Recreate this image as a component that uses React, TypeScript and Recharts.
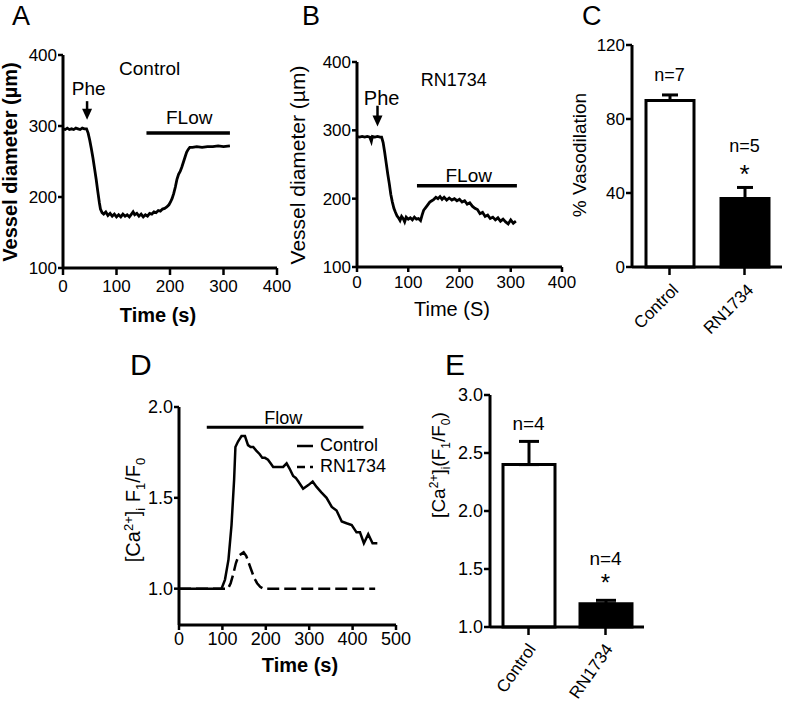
import React from 'react';
import {
  LineChart, Line, BarChart, Bar, XAxis, YAxis, ReferenceLine, ReferenceDot, ErrorBar, Legend, Cell,
} from 'recharts';

const W = 787;
const H = 703;
const FONT = '"Liberation Sans", Arial, Helvetica, sans-serif';
const BLACK = '#000';

// ---------- Panel A (Control diameter trace) ----------
const timeA = [0,4,8,12,16,20,24,28,32,36,40,44,47,50,53,56,59,62,65,68,70,73,76,80,84,88,92,96,100,104,108,112,116,120,124,128,131,134,138,142,146,150,154,158,162,166,170,174,178,182,186,190,194,198,201,204,207,210,213,216,219,222,225,228,231,234,237,242,250,260,270,280,290,300,312];
const diamA = [296,295,297,295,296,295,297,296,295,297,296,296,290,280,268,255,240,225,208,192,183,178,176,179,174,177,173,176,172,175,172,176,173,175,172,176,179,175,177,173,176,172,175,173,177,176,179,178,181,180,183,184,186,189,193,198,205,214,225,232,236,242,249,256,263,267,270,270,271,270,271,271,272,271,272];
const ticksAX = [0, 100, 200, 300, 400];
const ticksAY = [100, 200, 300, 400];

// ---------- Panel B (RN1734 diameter trace) ----------
const timeB = [0,5,10,15,20,25,28,30,35,40,45,48,51,54,57,60,63,66,69,72,75,78,81,84,87,90,93,96,100,104,108,112,116,120,124,127,130,134,138,142,146,150,154,158,162,166,170,175,180,185,190,195,200,205,210,215,220,225,230,235,240,245,250,255,260,265,270,275,280,285,290,295,300,305,310];
const diamB = [291,290,291,290,291,290,284,291,290,291,290,290,282,268,252,236,222,206,195,186,180,175,172,168,174,171,166,173,170,172,169,173,170,171,168,176,183,187,191,195,197,199,202,200,203,199,202,198,201,198,200,197,199,195,197,192,194,189,186,184,178,180,174,176,171,173,169,172,167,170,166,163,169,164,167];
const ticksBX = [0, 100, 200, 300, 400];
const ticksBY = [100, 200, 300, 400];

// ---------- Panel C (% vasodilation) ----------
const groupsC = ['Control', 'RN1734'];
const meanC = [90, 37];
const semC = [3, 6];
const nC = ['n=7', 'n=5'];
const ticksCY = [0, 40, 80, 120];

// ---------- Panel D ([Ca2+]i traces) ----------
const timeDC = [0,98,106,114,121,127,130,136,144,152,159,165,171,178,186,192,198,205,211,217,225,232,240,248,255,263,269,275,286,298,308,317,328,340,352,363,375,386,398,409,417,426,436,446,457];
const caDC = [1.0,1.0,1.05,1.16,1.35,1.60,1.78,1.81,1.84,1.84,1.79,1.78,1.78,1.76,1.74,1.72,1.72,1.71,1.69,1.67,1.67,1.67,1.67,1.69,1.66,1.62,1.61,1.59,1.55,1.57,1.59,1.56,1.53,1.50,1.45,1.43,1.37,1.36,1.35,1.31,1.31,1.25,1.30,1.25,1.25];
const timeDR = [0,113,119,125,131,137,143,149,155,161,167,173,180,187,194,452];
const caDR = [1.0,1.0,1.03,1.08,1.14,1.18,1.19,1.20,1.18,1.14,1.10,1.06,1.03,1.01,1.0,1.0];
const ticksDX = [0, 100, 200, 300, 400, 500];
const ticksDY = [1.0, 1.5, 2.0];

// ---------- Panel E ([Ca2+]i bars) ----------
const groupsE = ['Control', 'RN1734'];
const meanE = [2.4, 1.2];
const semE = [0.2, 0.03];
const nE = ['n=4', 'n=4'];
const ticksEY = [1.0, 1.5, 2.0, 2.5, 3.0];

const dataA = timeA.map((t, i) => ({ t, v: diamA[i] }));
const dataB = timeB.map((t, i) => ({ t, v: diamB[i] }));
const dataDC = timeDC.map((t, i) => ({ t, v: caDC[i] }));
const dataDR = timeDR.map((t, i) => ({ t, v: caDR[i] }));
const dataC = groupsC.map((g, i) => ({ g, m: meanC[i], e: [0, semC[i]] }));
const dataE = groupsE.map((g, i) => ({ g, m: meanE[i], e: [0, semE[i]] }));

const YW = 40;
const XH = 40;
const marginFor = (L: number, T: number, R: number, B: number) => ({
  top: T, left: L - YW, right: W - R, bottom: H - B - XH,
});

const axisLine = { stroke: BLACK, strokeWidth: 3 };
const tickLine = { stroke: BLACK, strokeWidth: 2.5 };
const tickStyle = (size: number) => ({ fill: BLACK, fontSize: size, fontFamily: FONT });

const vTitle = (cx: number, cy: number, text: string, size: number, bold = false) => () => (
  <text x={cx} y={cy} transform={`rotate(-90 ${cx} ${cy})`} textAnchor="middle"
    fontFamily={FONT} fontSize={size} fontWeight={bold ? 'bold' : 'normal'} fill={BLACK}>{text}</text>
);
const hTitle = (cx: number, y: number, text: string, size: number, bold = false) => () => (
  <text x={cx} y={y} textAnchor="middle" fontFamily={FONT} fontSize={size}
    fontWeight={bold ? 'bold' : 'normal'} fill={BLACK}>{text}</text>
);

const note = (key: string, x: any, y: number, text: string, size = 19) => (
  <ReferenceDot key={key} x={x} y={y} r={0} fill="none" stroke="none"
    label={{ value: text, position: 'center', fill: BLACK, fontSize: size, fontFamily: FONT }} />
);

const arrowHead = (p: any) => (
  <path d={`M${p.cx - 5},${p.cy - 6}L${p.cx + 5},${p.cy - 6}L${p.cx},${p.cy + 5}Z`} fill={BLACK} />
);

const RotTick = (props: any) => {
  const { x, y, payload, angle, dx, dy, size } = props;
  return (
    <g transform={`translate(${x},${y})`}>
      <text x={dx} y={dy} transform={`rotate(${angle} ${dx} ${dy})`} textAnchor="end"
        fontFamily={FONT} fontSize={size} fill={BLACK}>{payload.value}</text>
    </g>
  );
};

const fmt1 = (v: number) => v.toFixed(1);

const layer: React.CSSProperties = { position: 'absolute', left: 0, top: 0 };

const dashD: Record<string, string | undefined> = { Control: undefined, RN1734: '8 5' };

const LegendD = (props: any) => {
  const items = props.payload || [];
  return (
    <div style={{ fontFamily: FONT, fontSize: 18, color: BLACK }}>
      {items.map((it: any) => (
        <div key={it.value} style={{ display: 'flex', alignItems: 'center', height: 21 }}>
          <svg width={16} height={6} style={{ marginRight: 7 }}>
            <line x1={0} y1={3} x2={16} y2={3} stroke={BLACK} strokeWidth={2.5}
              strokeDasharray={dashD[it.value]} />
          </svg>
          <span>{it.value}</span>
        </div>
      ))}
    </div>
  );
};

const CaLabelD = () => {
  const cx = 140, cy = 510;
  return (
    <text x={cx} y={cy} transform={`rotate(-90 ${cx} ${cy})`} textAnchor="middle"
      fontFamily={FONT} fontSize={20} fill={BLACK}>
      [Ca<tspan dy={-7} fontSize={13}>2+</tspan><tspan dy={7}>]</tspan>
      <tspan dy={5} fontSize={13}>i</tspan><tspan dy={-5}> F</tspan>
      <tspan dy={5} fontSize={13}>1</tspan><tspan dy={-5}>/F</tspan>
      <tspan dy={5} fontSize={13}>0</tspan>
    </text>
  );
};

const CaLabelE = () => {
  const cx = 445, cy = 465;
  return (
    <text x={cx} y={cy} transform={`rotate(-90 ${cx} ${cy})`} textAnchor="middle"
      fontFamily={FONT} fontSize={19} fill={BLACK}>
      [Ca<tspan dy={-7} fontSize={12}>2+</tspan><tspan dy={7}>]</tspan>
      <tspan dy={5} fontSize={12}>i</tspan><tspan dy={-5}>(F</tspan>
      <tspan dy={5} fontSize={12}>1</tspan><tspan dy={-5}>/F</tspan>
      <tspan dy={5} fontSize={12}>0</tspan><tspan dy={-5}>)</tspan>
    </text>
  );
};

export default function App() {
  return (
    <div style={{ position: 'absolute', left: 0, top: 0, width: W, height: H, background: '#fff', overflow: 'hidden' }}>
      {/* Panel A */}
      <div style={layer}>
        <LineChart width={W} height={H} margin={marginFor(63, 55, 277, 268)}>
          <XAxis type="number" dataKey="t" domain={[0, 400]} ticks={ticksAX} interval={0}
            tickSize={7} tickMargin={5} height={XH} axisLine={axisLine} tickLine={tickLine}
            tick={tickStyle(17)} label={hTitle(158, 322, 'Time (s)', 20, true)} />
          <YAxis type="number" domain={[100, 400]} ticks={ticksAY} interval={0}
            tickSize={5} tickMargin={1} width={YW} axisLine={axisLine} tickLine={tickLine}
            tick={tickStyle(17)} label={vTitle(17, 162, 'Vessel diameter (µm)', 20, true)} />
          <Line data={dataA} dataKey="v" type="linear" stroke={BLACK} strokeWidth={2.8}
            dot={false} isAnimationActive={false} />
          <ReferenceLine segment={[{ x: 156, y: 290 }, { x: 312, y: 290 }]} stroke={BLACK} strokeWidth={3.5} />
          <ReferenceLine segment={[{ x: 45, y: 335 }, { x: 45, y: 318 }]} stroke={BLACK} strokeWidth={2.5} />
          <ReferenceDot x={45} y={316} r={6} shape={arrowHead} />
          {note('a1', 162, 381, 'Control', 19)}
          {note('a2', 48, 353, 'Phe', 19)}
          {note('a3', 236, 313, 'FLow', 19)}
        </LineChart>
      </div>

      {/* Panel B */}
      <div style={layer}>
        <LineChart width={W} height={H} margin={marginFor(357, 62, 562, 267)}>
          <XAxis type="number" dataKey="t" domain={[0, 400]} ticks={ticksBX} interval={0}
            tickSize={5} tickMargin={4} height={XH} axisLine={axisLine} tickLine={tickLine}
            tick={tickStyle(17)} label={hTitle(452, 316, 'Time (S)', 20)} />
          <YAxis type="number" domain={[100, 400]} ticks={ticksBY} interval={0}
            tickSize={5} tickMargin={1} width={YW} axisLine={axisLine} tickLine={tickLine}
            tick={tickStyle(17)} label={vTitle(305, 165, 'Vessel diameter (µm)', 21)} />
          <Line data={dataB} dataKey="v" type="linear" stroke={BLACK} strokeWidth={2.8}
            dot={false} isAnimationActive={false} />
          <ReferenceLine segment={[{ x: 117, y: 219 }, { x: 312, y: 219 }]} stroke={BLACK} strokeWidth={3.5} />
          <ReferenceLine segment={[{ x: 40, y: 336 }, { x: 40, y: 316 }]} stroke={BLACK} strokeWidth={2.5} />
          <ReferenceDot x={40} y={313} r={6} shape={arrowHead} />
          {note('b1', 189, 374, 'RN1734', 18)}
          {note('b2', 48, 347, 'Phe', 20)}
          {note('b3', 218, 234, 'FLow', 19)}
        </LineChart>
      </div>

      {/* Panel C */}
      <div style={layer}>
        <BarChart width={W} height={H} data={dataC} margin={marginFor(632, 45, 782, 267)}>
          <XAxis dataKey="g" type="category" interval={0} tickSize={8} tickMargin={2} height={XH}
            axisLine={axisLine} tickLine={tickLine}
            tick={<RotTick angle={-45} dx={10} dy={14} size={17} />} />
          <YAxis type="number" domain={[0, 120]} ticks={ticksCY} interval={0}
            tickSize={6} tickMargin={1} width={YW} axisLine={axisLine} tickLine={tickLine}
            tick={tickStyle(17)} label={vTitle(586, 155, '% Vasodilation', 19)} />
          <Bar dataKey="m" barSize={48} stroke={BLACK} strokeWidth={3} isAnimationActive={false}>
            {dataC.map((d, i) => (
              <Cell key={d.g} fill={i === 0 ? '#fff' : BLACK} stroke={BLACK} />
            ))}
            <ErrorBar dataKey="e" width={8} strokeWidth={3} stroke={BLACK} direction="y" />
          </Bar>
          {note('c1', groupsC[0], 104, nC[0], 18)}
          {note('c2', groupsC[1], 65.5, nC[1], 18)}
          {note('c3', groupsC[1], 50.5, '*', 26)}
        </BarChart>
      </div>

      {/* Panel D */}
      <div style={layer}>
        <LineChart width={W} height={H} margin={marginFor(179, 407, 396, 625)}>
          <XAxis type="number" dataKey="t" domain={[0, 500]} ticks={ticksDX} interval={0}
            tickSize={5} tickMargin={2} height={XH} axisLine={axisLine} tickLine={tickLine}
            tick={tickStyle(18)} label={hTitle(300, 672, 'Time (s)', 20, true)} />
          <YAxis type="number" domain={[0.8, 2.0]} ticks={ticksDY} interval={0} tickFormatter={fmt1}
            tickSize={5} tickMargin={1} width={YW} axisLine={axisLine} tickLine={tickLine}
            tick={tickStyle(18)} label={CaLabelD} />
          <Line data={dataDC} dataKey="v" name="Control" type="linear" stroke={BLACK} strokeWidth={2.5}
            dot={false} isAnimationActive={false} />
          <Line data={dataDR} dataKey="v" name="RN1734" type="linear" stroke={BLACK} strokeWidth={2.5}
            strokeDasharray="12 5" dot={false} isAnimationActive={false} />
          <ReferenceLine segment={[{ x: 64, y: 1.888 }, { x: 425, y: 1.888 }]} stroke={BLACK} strokeWidth={3} />
          {note('d1', 240, 1.94, 'Flow', 18)}
          <Legend layout="vertical" align="center" verticalAlign="middle" content={LegendD}
            wrapperStyle={{ left: 297, top: 435, width: 'auto', height: 'auto' }} />
        </LineChart>
      </div>

      {/* Panel E */}
      <div style={layer}>
        <BarChart width={W} height={H} data={dataE} margin={marginFor(490, 395, 644, 627)}>
          <XAxis dataKey="g" type="category" interval={0} tickSize={8} tickMargin={2} height={XH}
            axisLine={axisLine} tickLine={tickLine}
            tick={<RotTick angle={-55} dx={8} dy={12} size={17} />} />
          <YAxis type="number" domain={[1, 3]} ticks={ticksEY} interval={0} tickFormatter={fmt1}
            tickSize={6} tickMargin={1} width={YW} axisLine={axisLine} tickLine={tickLine}
            tick={tickStyle(18)} label={CaLabelE} />
          <Bar dataKey="m" barSize={52} stroke={BLACK} strokeWidth={3} isAnimationActive={false}>
            {dataE.map((d, i) => (
              <Cell key={d.g} fill={i === 0 ? '#fff' : BLACK} stroke={BLACK} />
            ))}
            <ErrorBar dataKey="e" width={10} strokeWidth={3} stroke={BLACK} direction="y" />
          </Bar>
          {note('e1', groupsE[0], 2.756, nE[0], 19)}
          {note('e2', groupsE[1], 1.59, nE[1], 19)}
          {note('e3', groupsE[1], 1.38, '*', 24)}
        </BarChart>
      </div>

      {/* Panel letters */}
      <svg width={W} height={H} style={layer}>
        <text x={12} y={25} fontFamily={FONT} fontSize={27} fill={BLACK}>A</text>
        <text x={302} y={25} fontFamily={FONT} fontSize={27} fill={BLACK}>B</text>
        <text x={582} y={25} fontFamily={FONT} fontSize={27} fill={BLACK}>C</text>
        <text x={130} y={375} fontFamily={FONT} fontSize={30} fill={BLACK}>D</text>
        <text x={445} y={375} fontFamily={FONT} fontSize={30} fill={BLACK}>E</text>
      </svg>
    </div>
  );
}
